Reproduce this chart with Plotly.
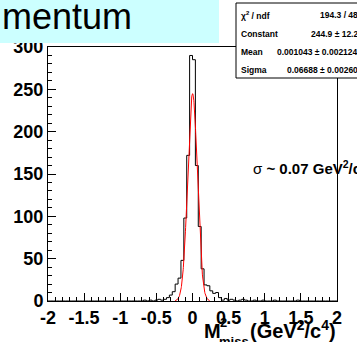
import plotly.graph_objects as go
import numpy as np

# ---------------- data ----------------
bin_lo = -2.0
bin_width = 0.04
counts = [
    0, 0, 0, 0, 0, 0, 0, 0, 0, 0,      # -2.00 .. -1.60
    0, 0, 0, 0, 0, 0, 0, 0, 0, 0,      # -1.60 .. -1.20
    0, 0, 0, 0, 0, 0, 0, 0, 0, 0,      # -1.20 .. -0.80
    0, 0, 0, 1, 0, 1, 0, 1, 2, 1,      # -0.80 .. -0.40
    2, 4, 7, 11, 20, 27, 48, 98, 172, 290,   # -0.40 .. 0.00
    285, 160, 88, 38, 19, 18, 12, 9, 10, 4,  # 0.00 .. 0.40
    1, 3, 1, 2, 1, 0, 1, 2, 1, 0,      # 0.40 .. 0.80
    0, 1, 0, 0, 1, 0, 0, 0, 1, 0,      # 0.80 .. 1.20
    0, 0, 0, 0, 0, 0, 1, 0, 0, 0,      # 1.20 .. 1.60
    0, 0, 0, 0, 0, 0, 0, 0, 0, 0,      # 1.60 .. 2.00
]
fit_constant = 244.9
fit_mean = 0.001043
fit_sigma = 0.06688
fit_range = (-0.24, 0.24)

x_tickvals = [-2, -1.5, -1, -0.5, 0, 0.5, 1, 1.5, 2]
x_ticktext = ["-2", "-1.5", "-1", "-0.5", "0", "0.5", "1", "1.5", "2"]
y_tickvals = [0, 50, 100, 150, 200, 250, 300]
y_ticktext = ["0", "50", "100", "150", "200", "250", "300"]

stats_labels = ["χ<sup>2</sup> / ndf", "Constant", "Mean", "Sigma"]
stats_values = ["194.3 / 48", "244.9 ± 12.2", "0.001043 ± 0.002124", "0.06688 ± 0.00260"]

title_text = "mentum"
sigma_text = "σ <b>~ 0.07 GeV<sup>2</sup>/c<sup>4</sup></b>"

# ---------------- layout geometry ----------------
W, H = 357, 342
ML, MR, MT, MB = 48, 20, 47, 41
PW, PH = W - ML - MR, H - MT - MB
FONT = "Arial, Liberation Sans, sans-serif"


def px2x(px):
    return (px - ML) / PW


def py2y(py):
    return (H - MB - py) / PH


# histogram step line
edges = [bin_lo + bin_width * i for i in range(len(counts) + 1)]
hx = edges
hy = counts + [counts[-1]]

# fit curve (from the fit parameters shown in the stats box)
fx = np.linspace(fit_range[0], fit_range[1], 200)
fy = fit_constant * np.exp(-0.5 * ((fx - fit_mean) / fit_sigma) ** 2)

fig = go.Figure()
fig.add_trace(go.Scatter(x=hx, y=hy, mode="lines", line=dict(shape="hv", color="black", width=1),
                         hoverinfo="skip", showlegend=False))
fig.add_trace(go.Scatter(x=fx, y=fy, mode="lines", line=dict(color="#ff0000", width=1),
                         hoverinfo="skip", showlegend=False))

tickfont = dict(family=FONT, size=18, color="black", weight="bold")

fig.update_xaxes(range=[-2, 2], showline=True, linecolor="black", linewidth=1, mirror=True,
                 tickmode="array", tickvals=x_tickvals, ticktext=x_ticktext,
                 ticks="inside", ticklen=8, tickcolor="black", tickwidth=1,
                 minor=dict(ticks="inside", ticklen=4, tickmode="linear", tick0=-2, dtick=0.1,
                            tickcolor="black", tickwidth=1, showgrid=False),
                 showgrid=False, zeroline=False, tickfont=tickfont)
fig.update_yaxes(range=[0, 300], showline=True, linecolor="black", linewidth=1, mirror=True,
                 tickmode="array", tickvals=y_tickvals, ticktext=y_ticktext,
                 ticks="inside", ticklen=8, tickcolor="black", tickwidth=1,
                 minor=dict(ticks="inside", ticklen=4, tickmode="linear", tick0=0, dtick=10,
                            tickcolor="black", tickwidth=1, showgrid=False),
                 showgrid=False, zeroline=False, tickfont=tickfont)

shapes = [
    dict(type="rect", xref="paper", yref="paper", x0=px2x(-2), x1=px2x(219), y0=py2y(-2), y1=py2y(43),
         fillcolor="#ccffff", line=dict(width=0), layer="above"),
    dict(type="rect", xref="paper", yref="paper", x0=px2x(236), x1=px2x(380), y0=py2y(3), y1=py2y(78),
         fillcolor="white", line=dict(color="black", width=1), layer="above"),
]

annotations = [
    dict(text=title_text, xref="paper", yref="paper", x=px2x(0), y=py2y(16), xanchor="left", yanchor="middle",
         showarrow=False, font=dict(family=FONT, size=36, color="black")),
    dict(text=sigma_text, xref="paper", yref="paper", x=px2x(251), y=py2y(167), xanchor="left", yanchor="middle",
         showarrow=False, font=dict(family=FONT, size=15, color="black")),
    dict(text="<b>M</b>", xref="paper", yref="paper", x=px2x(202), y=py2y(331), xanchor="left", yanchor="middle",
         showarrow=False, font=dict(family=FONT, size=20, color="black")),
    dict(text="<b>2</b>", xref="paper", yref="paper", x=px2x(218), y=py2y(322), xanchor="left", yanchor="middle",
         showarrow=False, font=dict(family=FONT, size=13, color="black")),
    dict(text="<b>miss</b>", xref="paper", yref="paper", x=px2x(217), y=py2y(341.5), xanchor="left", yanchor="middle",
         showarrow=False, font=dict(family=FONT, size=13, color="black")),
    dict(text="<b>(GeV<sup>2</sup>/c<sup>4</sup>)</b>", xref="paper", yref="paper", x=px2x(338), y=py2y(329),
         xanchor="right", yanchor="middle",
         showarrow=False, font=dict(family=FONT, size=20, color="black")),
]

row_y = [15, 34, 52.5, 70.5]
for lab, val, ry in zip(stats_labels, stats_values, row_y):
    annotations.append(dict(text="<b>" + lab + "</b>", xref="paper", yref="paper", x=px2x(239), y=py2y(ry),
                            xanchor="left", yanchor="middle", showarrow=False,
                            font=dict(family=FONT, size=8.5, color="black")))
    annotations.append(dict(text="<b>" + val + "</b>", xref="paper", yref="paper", x=px2x(360), y=py2y(ry),
                            xanchor="right", yanchor="middle", showarrow=False,
                            font=dict(family=FONT, size=8.5, color="black")))

fig.update_layout(width=W, height=H, margin=dict(l=ML, r=MR, t=MT, b=MB),
                  paper_bgcolor="white", plot_bgcolor="white",
                  shapes=shapes, annotations=annotations, showlegend=False)

fig.write_html("out.html")
